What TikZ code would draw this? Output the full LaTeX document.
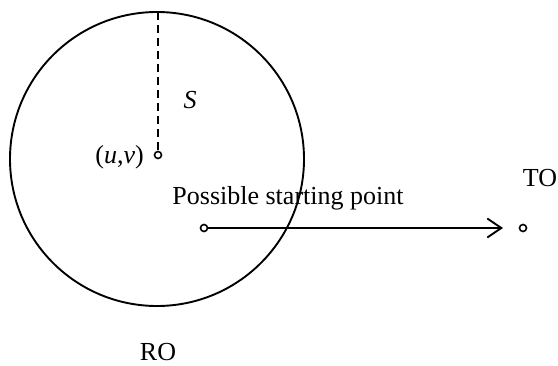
\documentclass[tikz,border=0pt]{standalone}
\usepackage{fontspec}
\setmainfont{Liberation Serif}
\usetikzlibrary{arrows.meta}
\begin{document}
\begin{tikzpicture}[x=1pt,y=-1pt,
  lbl/.style={font=\fontsize{26}{30}\selectfont, inner sep=0pt},
  dot/.style={circle, draw, line width=1.6pt, minimum size=7pt, inner sep=0pt},
  edge/.style={line width=1.9pt}]
\useasboundingbox (0,0) rectangle (558,365);
\node[circle, draw, line width=1.9pt, minimum size=294pt, inner sep=0pt] (ro) at (157,159) {};
\node[dot] (uv) at (158,155) {};
\coordinate (top) at (158,12);
\draw[edge, dash pattern=on 8pt off 5pt] (top) -- (uv);
\node[dot] (sp) at (204,228) {};
\node[dot] (to) at (523,228) {};
\coordinate (tip) at (503,228);
\draw[edge, -{Straight Barb[length=14pt,width=19pt,line width=1.9pt]}] (sp) -- (tip);
\node[lbl, font=\fontsize{26}{30}\selectfont\itshape] (s) at (190,100) {S};
\node[lbl, anchor=east] (uvl) at (144,157) {(\textit{u},\textit{v})};
\node[lbl] (pst) at (288,198) {Possible starting point};
\node[lbl] (tol) at (540,178) {TO};
\node[lbl] (rol) at (158,352) {RO};
\end{tikzpicture}
\end{document}
